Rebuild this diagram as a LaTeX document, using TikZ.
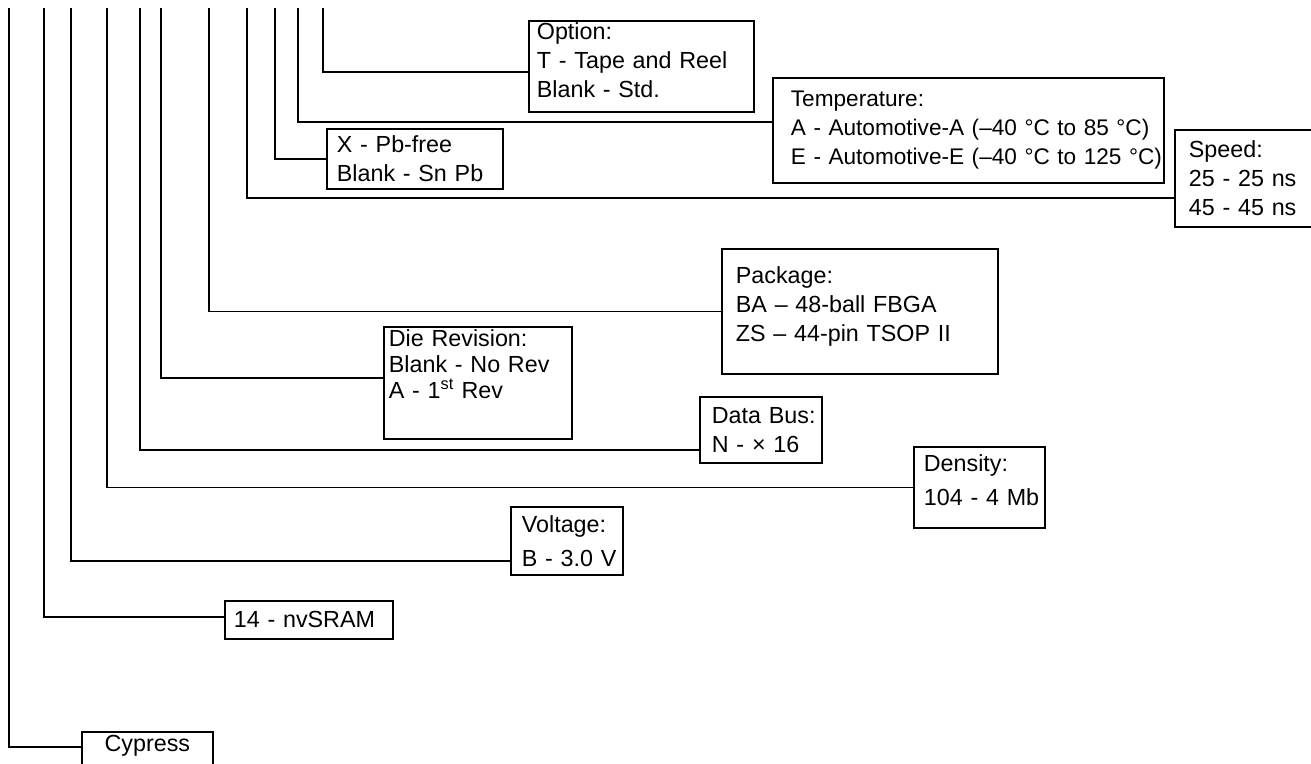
\documentclass[tikz,border=0pt]{standalone}
\usepackage{fontspec}
\setmainfont{Liberation Sans}
\tikzset{
  tag/.style={draw, line width=1.8pt, anchor=north west, align=left,
              inner ysep=2pt, font=\fontsize{23.3}{29}\selectfont},
  lead/.style={line width=1.8pt}
}

\begin{document}
\begin{tikzpicture}[x=1pt, y=-1pt]
  \useasboundingbox (0,0) rectangle (1311,763);

  \node[tag, text width=209pt, inner xsep=8pt, minimum height=91pt, text depth=70pt] (opt) at (528,20) {Option:\\T - Tape and Reel\\Blank - Std.};
  \node[tag, text width=355pt, inner xsep=18pt, minimum height=105pt,
        font=\fontsize{22.6}{29}\selectfont] (temp) at (772,77) {Temperature:\\\mbox{A - Automotive-A (–40 °C to 85 °C)}\\\mbox{E - Automotive-E (–40 °C to 125 °C)}};
  \node[tag, text width=156pt, inner xsep=10pt, minimum height=60pt] (pb) at (326,128) {X - Pb-free\\Blank - Sn Pb};
  \node[tag, text width=132pt, inner xsep=14pt, minimum height=97pt] (speed) at (1174,129) {Speed:\\25 - 25 ns\\45 - 45 ns};
  \node[tag, text width=248pt, inner xsep=14pt, minimum height=125pt, text depth=73pt] (pkg) at (721,248) {Package:\\BA – 48-ball FBGA\\ZS – 44-pin TSOP II};
  \node[tag, text width=178pt, inner xsep=5pt, minimum height=112pt, text depth=89pt,
        font=\fontsize{23.3}{26}\selectfont] (rev) at (383,326) {Die Revision:\\Blank - No Rev\\A - 1\textsuperscript{st} Rev};
  \node[tag, text width=98pt, inner xsep=12pt, minimum height=66pt] (bus) at (699,396) {\mbox{Data Bus:}\\N - × 16};
  \node[tag, text width=111pt, inner xsep=10pt, minimum height=81pt, text depth=49pt,
        font=\fontsize{23.3}{34}\selectfont] (dens) at (913,446) {Density:\\\mbox{104 - 4 Mb}};
  \node[tag, text width=90pt, inner xsep=11pt, minimum height=68pt,
        font=\fontsize{23.3}{34}\selectfont] (volt) at (510,506) {Voltage:\\\mbox{B - 3.0 V}};
  \node[tag, text width=150pt, inner xsep=9pt, minimum height=38pt] (nv) at (224,600) {14 - nvSRAM};
  \node[tag, text width=111pt, inner xsep=10pt, minimum height=44pt, text depth=21pt, align=center] (cyp) at (81,731) {Cypress};

  % leads from the part number down to each field
  \foreach \x/\n/\s in {9/cyp/7, 44/nv/3, 71/volt/-20, 107/dens/0, 140/bus/-20,
                        161/rev/5, 209/pkg/0, 247/speed/-19.5, 275/pb/0,
                        298/temp/8.5, 323/opt/-5.5} {
    \coordinate (top-\n) at (\x,8);
    \draw[lead] (top-\n) |- ([yshift=\s pt]\n.west);
  }
\end{tikzpicture}
\end{document}
